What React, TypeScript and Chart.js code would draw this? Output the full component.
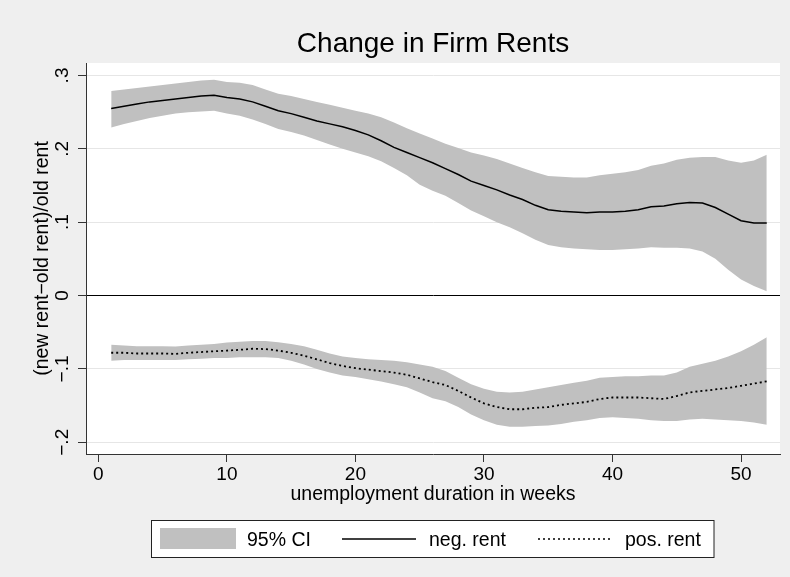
import React, { useEffect, useRef } from 'react';
import { Chart, registerables } from 'chart.js';

Chart.register(...registerables);

// ---------- data ----------
const weeks = [1, 2, 3, 4, 5, 6, 7, 8, 9, 10, 11, 12, 13, 14, 15, 16, 17, 18, 19, 20, 21, 22, 23, 24, 25, 26,
  27, 28, 29, 30, 31, 32, 33, 34, 35, 36, 37, 38, 39, 40, 41, 42, 43, 44, 45, 46, 47, 48, 49, 50, 51, 52];

const negRent = [0.255, 0.258, 0.261, 0.264, 0.266, 0.268, 0.270, 0.272, 0.273, 0.270, 0.268, 0.264, 0.258,
  0.252, 0.248, 0.243, 0.238, 0.234, 0.230, 0.225, 0.219, 0.211, 0.202, 0.195, 0.188, 0.181, 0.173, 0.165,
  0.156, 0.150, 0.144, 0.137, 0.131, 0.123, 0.117, 0.115, 0.114, 0.113, 0.114, 0.114, 0.115, 0.117, 0.121,
  0.122, 0.125, 0.127, 0.126, 0.120, 0.111, 0.102, 0.099, 0.099];
const negUpper = [0.279, 0.281, 0.283, 0.285, 0.287, 0.289, 0.291, 0.293, 0.294, 0.291, 0.290, 0.287, 0.281,
  0.275, 0.272, 0.268, 0.264, 0.260, 0.256, 0.252, 0.248, 0.243, 0.236, 0.228, 0.221, 0.214, 0.207, 0.201,
  0.195, 0.191, 0.186, 0.180, 0.174, 0.168, 0.163, 0.162, 0.161, 0.161, 0.164, 0.166, 0.168, 0.171, 0.177,
  0.180, 0.185, 0.188, 0.189, 0.189, 0.184, 0.181, 0.184, 0.192];
const negLower = [0.229, 0.234, 0.238, 0.242, 0.245, 0.248, 0.250, 0.251, 0.252, 0.248, 0.245, 0.240, 0.234,
  0.227, 0.223, 0.218, 0.212, 0.206, 0.200, 0.195, 0.190, 0.183, 0.174, 0.164, 0.151, 0.143, 0.136, 0.126,
  0.116, 0.108, 0.100, 0.093, 0.085, 0.076, 0.069, 0.066, 0.064, 0.063, 0.062, 0.062, 0.063, 0.064, 0.066,
  0.065, 0.065, 0.064, 0.060, 0.050, 0.035, 0.022, 0.013, 0.006];

const posRent = [-0.078, -0.078, -0.079, -0.079, -0.079, -0.0795, -0.078, -0.077, -0.076, -0.075, -0.074,
  -0.0725, -0.073, -0.075, -0.078, -0.082, -0.087, -0.092, -0.096, -0.099, -0.101, -0.103, -0.105, -0.108,
  -0.113, -0.118, -0.122, -0.130, -0.139, -0.147, -0.152, -0.155, -0.155, -0.153, -0.152, -0.149, -0.147,
  -0.145, -0.141, -0.139, -0.139, -0.139, -0.140, -0.141, -0.137, -0.132, -0.130, -0.128, -0.126, -0.123,
  -0.120, -0.117];
const posUpper = [-0.067, -0.068, -0.069, -0.069, -0.069, -0.0695, -0.068, -0.067, -0.066, -0.064, -0.063,
  -0.062, -0.062, -0.0635, -0.066, -0.069, -0.074, -0.079, -0.083, -0.085, -0.087, -0.088, -0.089, -0.091,
  -0.094, -0.097, -0.103, -0.112, -0.121, -0.127, -0.131, -0.132, -0.131, -0.128, -0.125, -0.122, -0.119,
  -0.116, -0.112, -0.111, -0.110, -0.110, -0.109, -0.109, -0.105, -0.097, -0.093, -0.089, -0.083, -0.076,
  -0.067, -0.057];
const posLower = [-0.089, -0.088, -0.088, -0.088, -0.088, -0.0877, -0.087, -0.086, -0.085, -0.085, -0.084,
  -0.084, -0.084, -0.085, -0.089, -0.094, -0.100, -0.105, -0.109, -0.111, -0.114, -0.117, -0.121, -0.125,
  -0.132, -0.140, -0.144, -0.152, -0.162, -0.170, -0.176, -0.179, -0.179, -0.178, -0.177, -0.175, -0.172,
  -0.170, -0.167, -0.166, -0.167, -0.168, -0.170, -0.171, -0.171, -0.169, -0.168, -0.169, -0.170, -0.171,
  -0.173, -0.176];

const xTickValues = [0, 10, 20, 30, 40, 50];
const yTickValues = [-0.2, -0.1, 0, 0.1, 0.2, 0.3];
const yTickLabels = ['\u2212.2', '\u2212.1', '0', '.1', '.2', '.3'];

const titleText = 'Change in Firm Rents';
const xTitleText = 'unemployment duration in weeks';
const yTitleText = '(new rent\u2212old rent)/old rent';
const legendLabels = ['95% CI', 'neg. rent', 'pos. rent'];

// ---------- styles ----------
const FONT = '"Liberation Sans", Arial, Helvetica, sans-serif';
const BG = '#efefef';
const BAND = '#c0c0c0';
const AXIS = '#333333';
const GRID = '#e6e6e6';

const toPts = (vals: number[]) => weeks.map((w, i) => ({ x: w, y: vals[i] }));

const decorPlugin = {
  id: 'decor',
  beforeDraw(chart: any) {
    const { ctx, width, height, chartArea } = chart;
    ctx.save();
    ctx.fillStyle = BG;
    ctx.fillRect(0, 0, width, height);
    ctx.fillStyle = '#ffffff';
    ctx.fillRect(chartArea.left, chartArea.top, chartArea.right - chartArea.left, chartArea.bottom - chartArea.top);
    ctx.restore();
  },
  afterDraw(chart: any) {
    const { ctx, chartArea } = chart;
    const cx = (chartArea.left + chartArea.right) / 2;
    const cy = (chartArea.top + chartArea.bottom) / 2;
    ctx.save();
    ctx.fillStyle = '#000';
    // title
    ctx.font = `28px ${FONT}`;
    ctx.textAlign = 'center';
    ctx.textBaseline = 'alphabetic';
    ctx.fillText(titleText, cx, 52);
    // x title
    ctx.font = `19.5px ${FONT}`;
    ctx.fillText(xTitleText, cx, 500);
    // y title
    ctx.save();
    ctx.translate(48, cy);
    ctx.rotate(-Math.PI / 2);
    ctx.fillText(yTitleText, 0, 0);
    ctx.restore();

    // legend
    const lx = 151.5, ly = 520.5, lw = 562.5, lh = 37;
    ctx.fillStyle = '#ffffff';
    ctx.fillRect(lx, ly, lw, lh);
    ctx.strokeStyle = '#222';
    ctx.lineWidth = 1;
    ctx.strokeRect(lx, ly, lw, lh);
    const my = 539;
    ctx.fillStyle = BAND;
    ctx.fillRect(160, 528, 76, 21);
    ctx.strokeStyle = '#000';
    ctx.lineWidth = 1.5;
    ctx.beginPath();
    ctx.moveTo(342, my);
    ctx.lineTo(416, my);
    ctx.stroke();
    ctx.setLineDash([2, 3]);
    ctx.beginPath();
    ctx.moveTo(538, my);
    ctx.lineTo(610, my);
    ctx.stroke();
    ctx.setLineDash([]);
    ctx.fillStyle = '#000';
    ctx.font = `19.5px ${FONT}`;
    ctx.textAlign = 'left';
    ctx.fillText(legendLabels[0], 247, 546);
    ctx.fillText(legendLabels[1], 429, 546);
    ctx.fillText(legendLabels[2], 625, 546);
    ctx.restore();
  },
};

export default function App() {
  const ref = useRef<HTMLCanvasElement | null>(null);

  useEffect(() => {
    if (!ref.current) return;
    const chart = new Chart(ref.current, {
      type: 'line',
      data: {
        datasets: [
          { label: 'negLower', data: toPts(negLower), borderWidth: 0, pointRadius: 0, fill: false, order: 3, borderColor: 'rgba(0,0,0,0)' },
          { label: '95% CI', data: toPts(negUpper), borderWidth: 0, pointRadius: 0, fill: '-1', backgroundColor: BAND, order: 3, borderColor: 'rgba(0,0,0,0)' },
          { label: 'posLower', data: toPts(posLower), borderWidth: 0, pointRadius: 0, fill: false, order: 3, borderColor: 'rgba(0,0,0,0)' },
          { label: '95% CI b', data: toPts(posUpper), borderWidth: 0, pointRadius: 0, fill: '-1', backgroundColor: BAND, order: 3, borderColor: 'rgba(0,0,0,0)' },
          { label: 'neg. rent', data: toPts(negRent), borderColor: '#000', borderWidth: 1.5, pointRadius: 0, fill: false, order: 1 },
          { label: 'pos. rent', data: toPts(posRent), borderColor: '#000', borderWidth: 1.8, borderDash: [2, 3], pointRadius: 0, fill: false, order: 1 },
        ],
      },
      options: {
        responsive: false,
        animation: false,
        devicePixelRatio: 1,
        layout: { padding: { left: 0, right: 10, top: 63, bottom: 63 } },
        plugins: {
          legend: { display: false },
          title: { display: false },
          tooltip: { enabled: false },
        },
        elements: { line: { tension: 0 } },
        scales: {
          x: {
            type: 'linear',
            min: -0.96,
            max: 53.03,
            afterBuildTicks: (s: any) => { s.ticks = xTickValues.map((v) => ({ value: v })); },
            afterFit: (s: any) => { s.height = 60; },
            grid: { drawOnChartArea: false, drawTicks: true, tickLength: 8, tickColor: AXIS, tickWidth: 1 },
            border: { display: true, color: AXIS, width: 1 },
            ticks: { color: '#000', font: { family: FONT, size: 19 }, padding: 1, maxRotation: 0, minRotation: 0, autoSkip: false },
          },
          y: {
            type: 'linear',
            min: -0.216,
            max: 0.317,
            afterBuildTicks: (s: any) => { s.ticks = yTickValues.map((v) => ({ value: v })); },
            afterFit: (s: any) => { s.width = 86; },
            grid: {
              drawOnChartArea: true,
              drawTicks: true,
              tickLength: 8,
              tickColor: AXIS,
              tickWidth: 1,
              lineWidth: 1,
              color: (c: any) => (c.tick && Math.abs(c.tick.value) < 1e-9 ? '#000' : GRID),
            },
            border: { display: true, color: AXIS, width: 1 },
            ticks: {
              color: '#000',
              font: { family: FONT, size: 19 },
              minRotation: 90,
              maxRotation: 90,
              crossAlign: 'center',
              padding: 2,
              autoSkip: false,
              callback: (v: any) => {
                const i = yTickValues.findIndex((t) => Math.abs(t - Number(v)) < 1e-9);
                return i >= 0 ? yTickLabels[i] : '';
              },
            },
          },
        },
      },
      plugins: [decorPlugin],
    } as any);
    return () => chart.destroy();
  }, []);

  return (
    <div style={{ position: 'fixed', left: 0, top: 0, width: 790, height: 577, background: BG }}>
      <canvas ref={ref} width={790} height={577} style={{ display: 'block', width: 790, height: 577 }} />
    </div>
  );
}
